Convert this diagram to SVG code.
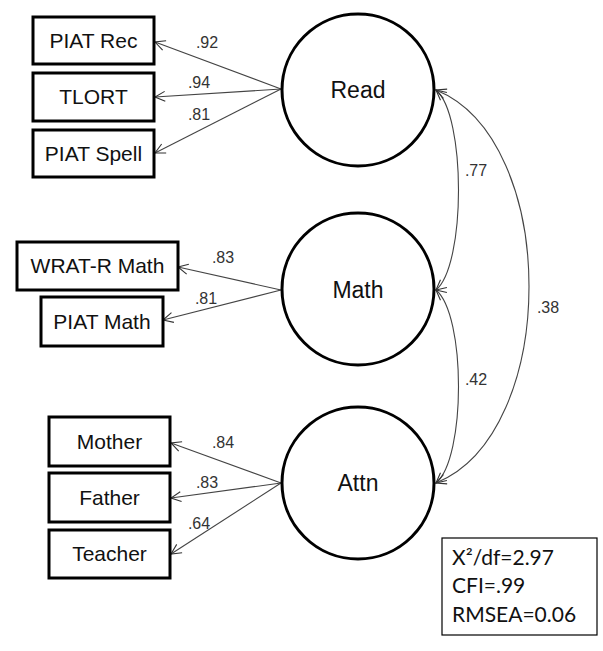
<svg xmlns="http://www.w3.org/2000/svg" width="603" height="651" viewBox="0 0 603 651">
<defs>
<marker id="ah" viewBox="0 0 12 12" refX="11" refY="6" markerWidth="12" markerHeight="12" markerUnits="userSpaceOnUse" orient="auto-start-reverse">
<path d="M1,1 L11,6 L1,11" fill="none" stroke="#333" stroke-width="1.1"/>
</marker>
</defs>
<style>
.box{fill:#fff;stroke:#000;stroke-width:3}
.lat{fill:#fff;stroke:#000;stroke-width:3}
.bt{font-family:"Liberation Sans",Arial,sans-serif;font-size:21px;fill:#111;text-anchor:middle}
.lt{font-family:"Liberation Sans",Arial,sans-serif;font-size:23px;fill:#111;text-anchor:middle}
.el{font-family:"Liberation Sans",Arial,sans-serif;font-size:16px;fill:#333;text-anchor:middle}
.cn{fill:none;stroke:#444;stroke-width:1.1}
.st{font-family:Lato,"Open Sans",sans-serif;font-size:21px;fill:#111}
</style>
<rect width="603" height="651" fill="#fff"/>
<g id="connectors">
<line class="cn" x1="281" y1="89" x2="155" y2="42" marker-end="url(#ah)"/>
<line class="cn" x1="281" y1="89" x2="155" y2="97" marker-end="url(#ah)"/>
<line class="cn" x1="281" y1="89" x2="155" y2="153" marker-end="url(#ah)"/>
<line class="cn" x1="281" y1="290" x2="178" y2="267" marker-end="url(#ah)"/>
<line class="cn" x1="281" y1="290" x2="163" y2="320" marker-end="url(#ah)"/>
<line class="cn" x1="281" y1="483" x2="171" y2="443" marker-end="url(#ah)"/>
<line class="cn" x1="281" y1="483" x2="171" y2="498" marker-end="url(#ah)"/>
<line class="cn" x1="281" y1="483" x2="171" y2="554" marker-end="url(#ah)"/>
<path class="cn" d="M436,90 C466,115 466,265 436,290" marker-start="url(#ah)" marker-end="url(#ah)"/>
<path class="cn" d="M436,290 C466,315 466,458 436,483" marker-start="url(#ah)" marker-end="url(#ah)"/>
<path class="cn" d="M436,90 C560,140 560,433 436,483" marker-start="url(#ah)" marker-end="url(#ah)"/>
<text class="el" x="207" y="48">.92</text>
<text class="el" x="199" y="88">.94</text>
<text class="el" x="199" y="120">.81</text>
<text class="el" x="223" y="263">.83</text>
<text class="el" x="206" y="304">.81</text>
<text class="el" x="223" y="448">.84</text>
<text class="el" x="207" y="488">.83</text>
<text class="el" x="199" y="529">.64</text>
<text class="el" x="476" y="176">.77</text>
<text class="el" x="476" y="385">.42</text>
<text class="el" x="548" y="313">.38</text>
</g>
<g id="piat-rec"><rect class="box" x="33" y="17" width="121" height="47"/><text class="bt" x="93.5" y="48">PIAT Rec</text></g>
<g id="tlort"><rect class="box" x="33" y="73" width="121" height="48"/><text class="bt" x="93.5" y="104">TLORT</text></g>
<g id="piat-spell"><rect class="box" x="33" y="130" width="121" height="47"/><text class="bt" x="93.5" y="161">PIAT Spell</text></g>
<g id="wrat-r-math"><rect class="box" x="17" y="242" width="161" height="48"/><text class="bt" x="97.5" y="273">WRAT-R Math</text></g>
<g id="piat-math"><rect class="box" x="41" y="297" width="122" height="49"/><text class="bt" x="102" y="329">PIAT Math</text></g>
<g id="mother"><rect class="box" x="49" y="417" width="121" height="49"/><text class="bt" x="109.5" y="449">Mother</text></g>
<g id="father"><rect class="box" x="49" y="473" width="121" height="49"/><text class="bt" x="109.5" y="505">Father</text></g>
<g id="teacher"><rect class="box" x="49" y="530" width="121" height="48"/><text class="bt" x="109.5" y="561">Teacher</text></g>
<g id="read"><circle class="lat" cx="358" cy="90" r="76"/><text class="lt" x="358" y="98">Read</text></g>
<g id="math"><circle class="lat" cx="358" cy="289" r="76"/><text class="lt" x="358" y="298">Math</text></g>
<g id="attn"><circle class="lat" cx="358" cy="483" r="76"/><text class="lt" x="358" y="491">Attn</text></g>
<g id="fit"><rect x="442" y="538" width="155" height="97" fill="#fff" stroke="#000" stroke-width="1.2"/>
<text class="st" x="452" y="565">X²/df=2.97</text>
<text class="st" x="452" y="593">CFI=.99</text>
<text class="st" x="452" y="622">RMSEA=0.06</text></g>
</svg>
